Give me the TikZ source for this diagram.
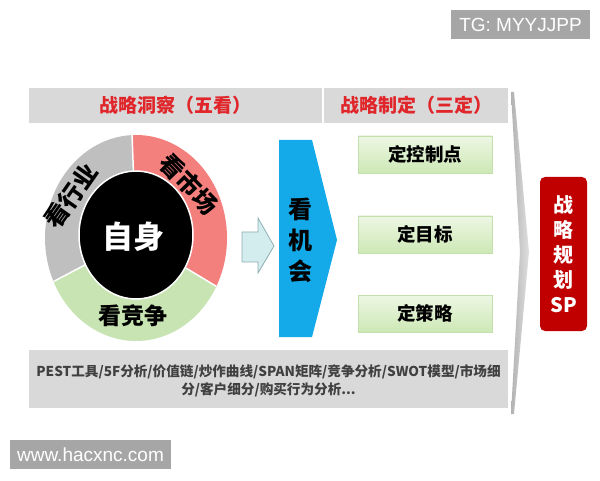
\documentclass[tikz,border=0pt]{standalone}
\usepackage{fontspec}
\setmainfont{Noto Sans CJK SC}
\newfontfamily\wmfont{Liberation Sans}
\usetikzlibrary{calc}
\definecolor{hdrgray}{HTML}{D9D9D9}
\definecolor{hdrred}{HTML}{E0262A}
\definecolor{ringgray}{HTML}{BFBFBF}
\definecolor{ringred}{HTML}{F4807E}
\definecolor{ringgreen}{HTML}{C8E4B2}
\definecolor{oppblue}{HTML}{14AAE9}
\definecolor{arrfill}{HTML}{D3ECEE}
\definecolor{arrdraw}{HTML}{8CADB2}
\definecolor{boxgreenA}{HTML}{EDF7E4}
\definecolor{boxgreenB}{HTML}{CDE8B5}
\definecolor{boxgreenD}{HTML}{C4DFAE}
\definecolor{spred}{HTML}{C00000}
\definecolor{wmgray}{HTML}{A6A6A6}
\definecolor{toolgray}{HTML}{404040}
\tikzset{
  hdrbar/.style={fill=hdrgray, draw=none},
  hdrtext/.style={text=hdrred, font=\bfseries\fontsize{19}{22}\selectfont},
  ringtext/.style={text=black, inner sep=0pt, font=\bfseries\fontsize{24}{26}\selectfont},
  greenbox/.style={draw=boxgreenD, line width=0.6pt, top color=boxgreenA, bottom color=boxgreenB,
    minimum width=134pt, minimum height=37pt, inner sep=0pt,
    font=\bfseries\fontsize{18.5}{20}\selectfont},
  wmbox/.style={fill=wmgray, text=white, inner sep=0pt, font=\wmfont\fontsize{19}{21}\selectfont},
}
\begin{document}
\begin{tikzpicture}[x=1pt,y=1pt]
\useasboundingbox (0,0) rectangle (600,480);
\fill[white] (0,0) rectangle (600,480);

% watermarks
\node[wmbox, minimum width=139pt, minimum height=29pt] (tg) at (520.5,455.5) {TG: MYYJJPP};
\node[wmbox, minimum width=161pt, minimum height=29pt] (www) at (90.5,25.5) {www.hacxnc.com};

% gray chevron sliver on the right of the panel
\shade[left color=gray!60, right color=gray!25]
  (511,388) -- (514,388) -- (529,228) -- (514,66) -- (511,66) -- (520,228) -- cycle;

% headers
\fill[hdrbar] (29,357) rectangle (322,392);
\fill[hdrbar] (324,357) rectangle (508,392);
\node[hdrtext] (h1) at (175.5,374.5) {战略洞察（五看）};
\node[hdrtext] (h2) at (416,374.5) {战略制定（三定）};

% ring
\coordinate (rc) at (136,242);
\fill[ringgray] (rc) -- ($(rc)+(92.5:91 and 103)$) arc[start angle=92.5, end angle=205, x radius=91, y radius=103] -- cycle;
\fill[ringgreen] (rc) -- ($(rc)+(205:91 and 103)$) arc[start angle=205, end angle=332, x radius=91, y radius=103] -- cycle;
\fill[ringred] (rc) -- ($(rc)+(332:91 and 103)$) arc[start angle=332, end angle=452.5, x radius=91, y radius=103] -- cycle;
\draw[white, line width=1.5pt] (rc) -- ($(rc)+(92.5:91 and 103)$);
\draw[white, line width=1.5pt] (rc) -- ($(rc)+(205:91 and 103)$);
\draw[white, line width=1.5pt] (rc) -- ($(rc)+(332:91 and 103)$);
\coordinate (ic) at (136,245);
\fill[black, draw=white, line width=1.5pt] (ic) ellipse[x radius=57, y radius=64];
\node[text=white, inner sep=0pt, font=\bfseries\fontsize{31}{33}\selectfont] (self) at (133,243) {自身};
\node[ringtext, rotate=55] (hy) at (71,284) {看行业};
\node[ringtext, rotate=-46] (sc) at (189,296) {看市场};
\node[ringtext, font=\bfseries\fontsize{23}{25}\selectfont] (jz) at (133,164) {看竞争};

% small block arrow
\filldraw[fill=arrfill, draw=arrdraw, line width=0.8pt]
  (242,248) -- (258,248) -- (258,262) -- (274,234) -- (258,207) -- (258,218) -- (242,218) -- cycle;

% blue chevron
\fill[oppblue] (279,340) -- (312,340) -- (337,240) -- (312,143) -- (279,143) -- cycle;
\node[align=center, font=\bfseries\fontsize{24}{31}\selectfont] (opp) at (300,240) {看\\机\\会};

% three green boxes
\node[greenbox] (b1) at (425,325.5) {定控制点};
\node[greenbox] (b2) at (425,245.5) {定目标};
\node[greenbox] (b3) at (425,166.5) {定策略};

% red SP box
\fill[spred, rounded corners=5pt] (540,149) rectangle (587,303);
\node[align=center, text=white, font=\bfseries\fontsize{20}{25}\selectfont] (sp) at (563.5,226) {战\\略\\规\\划\\SP};

% bottom tools box
\fill[hdrgray] (29,72) rectangle (508,130);
\node[align=center, text=toolgray, font=\bfseries\fontsize{13.6}{18}\selectfont] (tools) at (268.5,99)
  {PEST工具/5F分析/价值链/炒作曲线/SPAN矩阵/竞争分析/SWOT模型/市场细\\分/客户细分/购买行为分析...};
\end{tikzpicture}
\end{document}
